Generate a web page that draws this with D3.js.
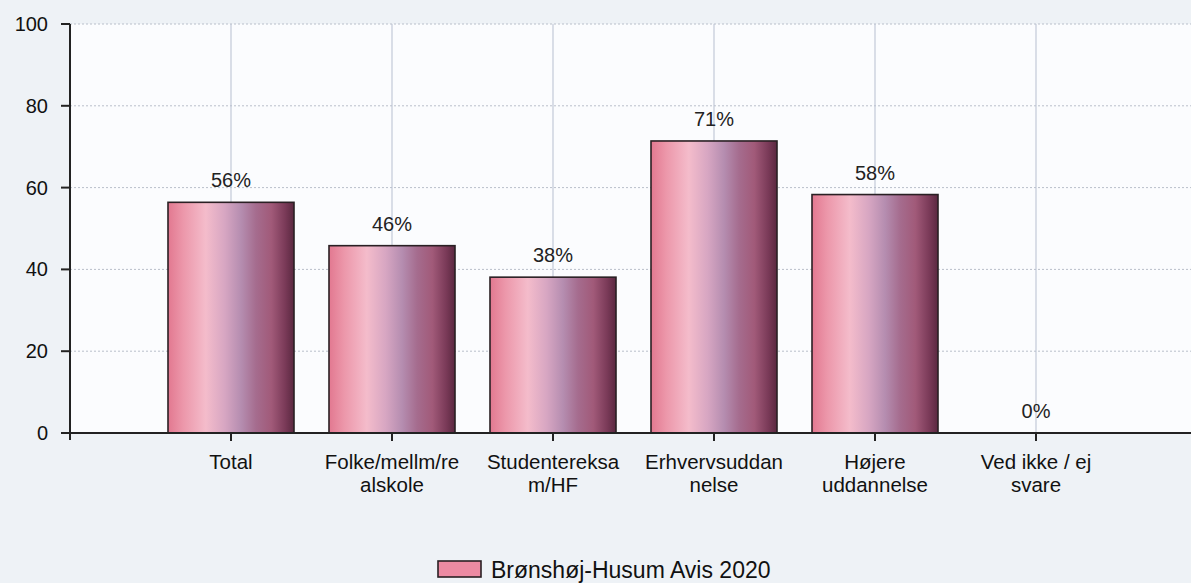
<!DOCTYPE html>
<html>
<head>
<meta charset="utf-8">
<script src="https://cdn.jsdelivr.net/npm/d3@7"></script>
<style>
  body { margin: 0; background: #eef2f6; }
  svg { display: block; font-family: "Liberation Sans", Arial, sans-serif; }
  .tick-label { font-size: 20px; fill: #111; }
  .cat-label { font-size: 20.5px; fill: #111; text-anchor: middle; }
  .val-label { font-size: 20px; fill: #222; text-anchor: middle; }
</style>
</head>
<body>
<svg id="chart" width="1191" height="583"></svg>
<script>
const categories = ['Total', 'Folke/mellm/realskole', 'Studentereksam/HF', 'Erhvervsuddannelse', 'Højere uddannelse', 'Ved ikke / ej svare']
const categoryLines = [['Total'], ['Folke/mellm/re', 'alskole'], ['Studentereksa', 'm/HF'], ['Erhvervsuddan', 'nelse'], ['Højere', 'uddannelse'], ['Ved ikke / ej', 'svare']]
const values = [56.4, 45.8, 38.1, 71.4, 58.3, 0]
const yTicks = [0, 20, 40, 60, 80, 100]
const seriesName = 'Brønshøj-Husum Avis 2020'

const width = 1191
    , height = 583
    , plotLeft = 70
    , plotRight = 1197
    , plotTop = 24
    , plotBottom = 433
    , barWidth = 126
    , svg = d3.select('#chart')
    , x = d3.scalePoint().domain(categories).range([plotLeft, plotRight]).padding(1)
    , y = d3.scaleLinear().domain([0, 100]).range([plotBottom, plotTop])

const defs = svg.append('defs')
const grad = defs.append('linearGradient').attr('id', 'barGrad')
    .attr('x1', '0%').attr('x2', '100%').attr('y1', '0%').attr('y2', '0%')
;[[0, '#e27890'], [0.12, '#ec97aa'], [0.3, '#f4bccb'], [0.45, '#d7a6c2'], [0.58, '#b58db0'],
  [0.7, '#a56c8e'], [0.82, '#a15a79'], [0.93, '#7a3a58'], [1, '#5a2840']]
    .forEach(([o, c]) => grad.append('stop').attr('offset', o).attr('stop-color', c))

// plot background
svg.append('rect')
    .attr('x', plotLeft).attr('y', plotTop)
    .attr('width', width - plotLeft).attr('height', plotBottom - plotTop)
    .attr('fill', '#fbfcfe')

// horizontal grid
svg.selectAll('line.hgrid')
    .data(yTicks.filter(d => d > 0))
    .join('line')
    .attr('class', 'hgrid')
    .attr('x1', plotLeft).attr('x2', width)
    .attr('y1', y).attr('y2', y)
    .attr('stroke', '#b9bfca').attr('stroke-dasharray', '2,2')

// vertical grid
svg.selectAll('line.vgrid')
    .data(categories)
    .join('line')
    .attr('class', 'vgrid')
    .attr('x1', x).attr('x2', x)
    .attr('y1', plotTop).attr('y2', plotBottom)
    .attr('stroke', '#b7bfd0')

// bars
svg.selectAll('rect.bar')
    .data(values)
    .join('rect')
    .attr('class', 'bar')
    .attr('x', (d, i) => x(categories[i]) - barWidth / 2)
    .attr('y', d => y(d))
    .attr('width', barWidth)
    .attr('height', d => plotBottom - y(d))
    .attr('fill', 'url(#barGrad)')
    .attr('stroke', '#2a2024').attr('stroke-width', 1.6)

// value labels
svg.selectAll('text.val-label')
    .data(values)
    .join('text')
    .attr('class', 'val-label')
    .attr('x', (d, i) => x(categories[i]))
    .attr('y', d => y(d) - 15)
    .text(d => `${Math.round(d)}%`)

// y axis
const yAxis = svg.append('g')
yAxis.append('line')
    .attr('x1', plotLeft).attr('x2', plotLeft)
    .attr('y1', plotTop).attr('y2', plotBottom + 7)
    .attr('stroke', '#222').attr('stroke-width', 2)
yAxis.selectAll('line.ytick')
    .data(yTicks)
    .join('line')
    .attr('class', 'ytick')
    .attr('x1', plotLeft - 9).attr('x2', plotLeft)
    .attr('y1', y).attr('y2', y)
    .attr('stroke', '#222').attr('stroke-width', 2)
yAxis.selectAll('text')
    .data(yTicks)
    .join('text')
    .attr('class', 'tick-label')
    .attr('x', plotLeft - 22)
    .attr('y', d => y(d) + 7)
    .attr('text-anchor', 'end')
    .text(d => d)

// x axis
const xAxis = svg.append('g')
xAxis.append('line')
    .attr('x1', plotLeft).attr('x2', width)
    .attr('y1', plotBottom).attr('y2', plotBottom)
    .attr('stroke', '#222').attr('stroke-width', 2)
xAxis.selectAll('line.xtick')
    .data(categories)
    .join('line')
    .attr('class', 'xtick')
    .attr('x1', x).attr('x2', x)
    .attr('y1', plotBottom).attr('y2', plotBottom + 8)
    .attr('stroke', '#222').attr('stroke-width', 2)
xAxis.selectAll('text')
    .data(categories)
    .join('text')
    .attr('class', 'cat-label')
    .attr('x', x)
    .attr('y', 469)
    .each(function (d, i) {
        d3.select(this).selectAll('tspan')
            .data(categoryLines[i])
            .join('tspan')
            .attr('x', x(d))
            .attr('dy', (t, j) => j === 0 ? 0 : 23)
            .text(t => t)
    })

// legend
const legend = svg.append('g')
legend.append('rect')
    .attr('x', 438).attr('y', 561)
    .attr('width', 43).attr('height', 16)
    .attr('fill', '#ec8aa2')
    .attr('stroke', '#2a2024').attr('stroke-width', 1.6)
legend.append('text')
    .attr('x', 491).attr('y', 578)
    .attr('font-size', 23).attr('fill', '#111')
    .text(seriesName)
</script>
</body>
</html>
